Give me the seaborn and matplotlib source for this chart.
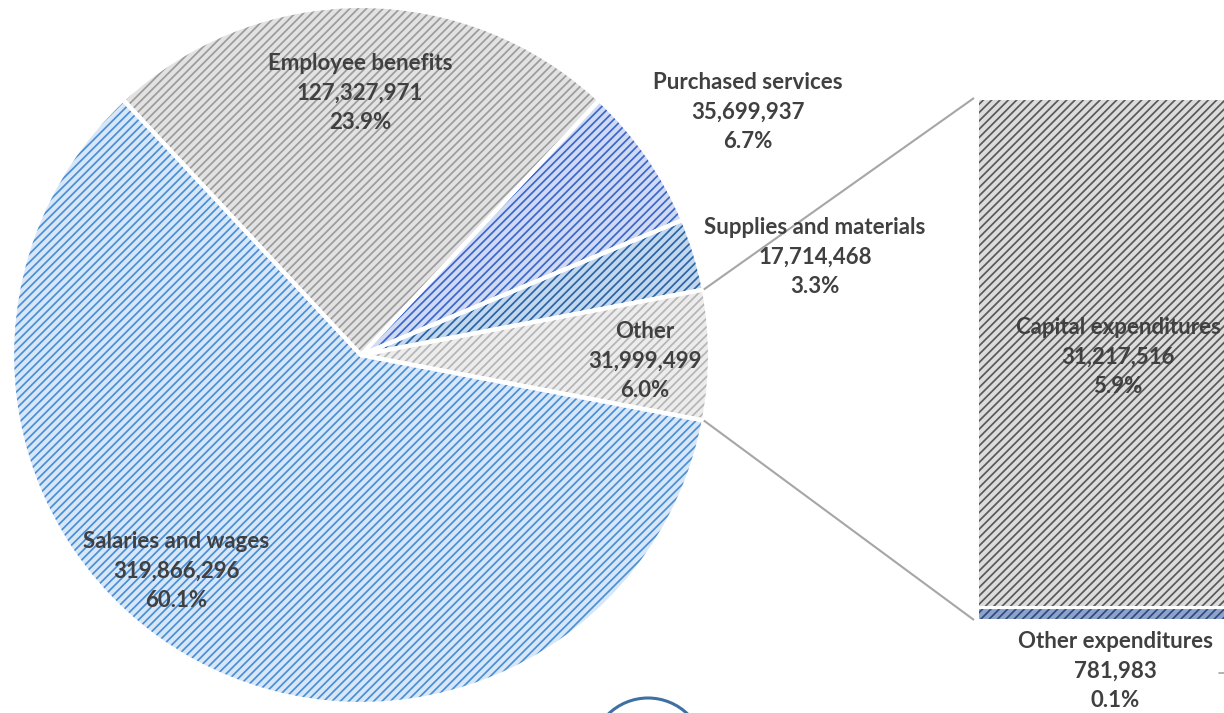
import math
import matplotlib
matplotlib.use("Agg")
import matplotlib.pyplot as plt
from matplotlib.patches import Circle
import seaborn as sns

# ---- data -------------------------------------------------------------
pie_labels = ["Other", "Supplies and materials", "Purchased services",
              "Employee benefits", "Salaries and wages"]
pie_values = [31999499, 17714468, 35699937, 127327971, 319866296]

bar_labels = ["Other expenditures", "Capital expenditures"]
bar_values = [781983, 31217516]

# ---- styling ----------------------------------------------------------
sns.set_theme(style="white")
plt.rcParams["font.family"] = ["Lato", "DejaVu Sans"]
plt.rcParams["hatch.linewidth"] = 1.25

pie_face = ["#ececec", "#c3d8ef", "#d0daf4", "#e2e2e2", "#d8e7f8"]
pie_hatch = ["#b5b5b5", "#2a64a4", "#3b68c8", "#9c9c9c", "#4a8fd6"]
bar_face = ["#8fa3c8", "#dcdcdc"]
bar_hatch = ["#2c4a85", "#595959"]
text_color = "#404040"
line_color = "#a6a6a6"
HATCH = "////"

W, H = 1224, 713
fig = plt.figure(figsize=(W / 100, H / 100), dpi=100)
ax = fig.add_axes([0, 0, 1, 1])

center = (361, 358)
radius = 349
total = sum(pie_values)
start = -180.0 * pie_values[0] / total

# hatched fill (hatch colour comes from the edge colour)
wedges, _ = ax.pie(pie_values, center=center, radius=radius, startangle=start,
                   counterclock=True, wedgeprops=dict(linewidth=0))
for w, fc, hc in zip(wedges, pie_face, pie_hatch):
    w.set_facecolor(fc)
    w.set_edgecolor(hc)
    w.set_hatch(HATCH)
    w.set_linewidth(0)
# white separators
ax.pie(pie_values, center=center, radius=radius, startangle=start,
       counterclock=True,
       wedgeprops=dict(fill=False, edgecolor="white", linewidth=3))

ax.set_xlim(0, W)
ax.set_ylim(0, H)
ax.set_aspect("auto")
ax.axis("off")

# ---- stacked bar breaking out the "Other" slice ----------------------
bar_left, bar_width = 977, 282
bar_bottom, bar_span = 93, 522
scale = bar_span / sum(bar_values)
bottom = bar_bottom
for v, fc, hc in zip(bar_values, bar_face, bar_hatch):
    h = v * scale
    ax.bar(bar_left, h, width=bar_width, bottom=bottom, align="edge",
           color=fc, edgecolor=hc, hatch=HATCH, linewidth=0)
    ax.bar(bar_left, h, width=bar_width, bottom=bottom, align="edge",
           fill=False, edgecolor="white", linewidth=2.2)
    bottom += h

# connector lines from the slice edges to the bar corners
half = math.pi * pie_values[0] / total
for sgn, y_end in ((1, bar_bottom + bar_span), (-1, bar_bottom)):
    x0 = center[0] + radius * math.cos(sgn * half)
    y0 = center[1] + radius * math.sin(sgn * half)
    ax.plot([x0, bar_left - 3], [y0, y_end], color=line_color, lw=1.5,
            solid_capstyle="butt")

# ---- data labels -----------------------------------------------------
def label(name, value, x, y):
    txt = f"{name}\n{value:,}\n{100 * value / total:.1f}%"
    ax.text(x, y, txt, ha="center", va="center", fontsize=16,
            fontweight="bold", color=text_color, linespacing=1.5)

pie_label_pos = [(645, 352), (815, 456), (748, 601), (360, 620), (176, 142)]
for name, v, (x, y) in zip(pie_labels, pie_values, pie_label_pos):
    label(name, v, x, y)

bar_label_pos = [(1115, 42), (1118, 356)]
for name, v, (x, y) in zip(bar_labels, bar_values, bar_label_pos):
    label(name, v, x, y)

# small leader tick beside the lower bar label
ax.plot([1219, 1224], [40, 40], color=line_color, lw=1.2)

# outline circle at the lower edge
ax.add_patch(Circle((648, -42), 57, fill=False, edgecolor="#3f6fa3",
                    linewidth=2.2))

fig.savefig("out.png", dpi=100)
